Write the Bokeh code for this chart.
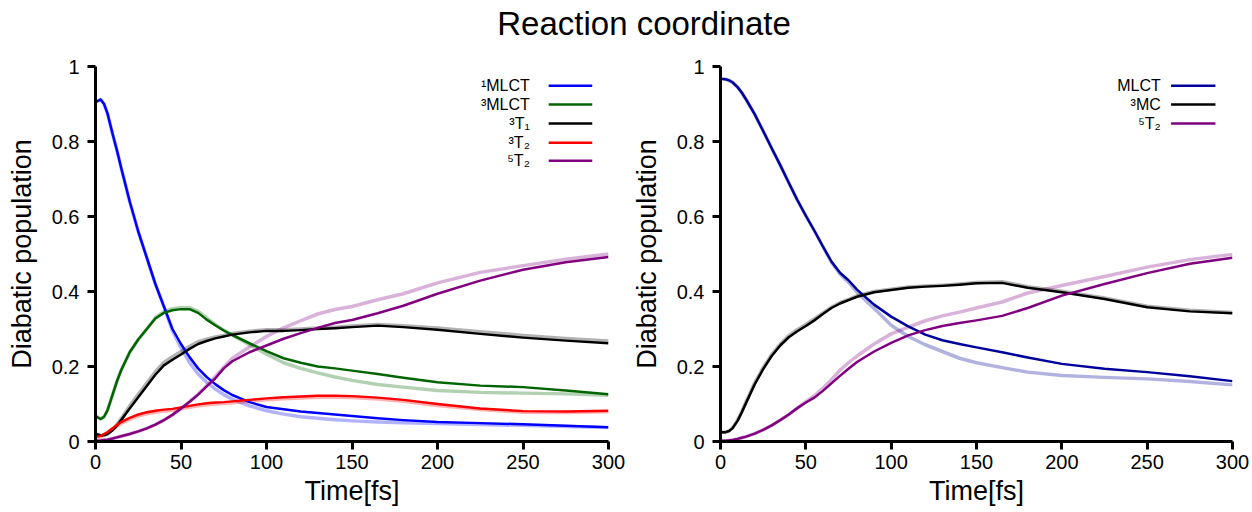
from bokeh.plotting import figure
from bokeh.models import Range1d, FixedTicker, NumeralTickFormatter, Div, Label
from bokeh.layouts import row, column
from bokeh.embed import file_html
from bokeh.resources import INLINE

# ---- data (time in fs) ----
T = [0, 3, 5, 7, 10, 12.5, 15, 20, 25, 30, 35, 40, 45, 50, 55, 60, 65, 70, 75, 80, 90, 100,
     110, 120, 130, 140, 150, 165, 180, 200, 225, 250, 275, 300]

# left panel: main run and faded comparison run
mlct1 = [0.905, 0.912, 0.90, 0.875, 0.82, 0.777, 0.73, 0.64, 0.56, 0.49, 0.42, 0.36, 0.30, 0.26, 0.225, 0.195, 0.172, 0.153,
         0.137, 0.124, 0.105, 0.092, 0.086, 0.080, 0.076, 0.072, 0.068, 0.062, 0.057, 0.052, 0.049, 0.046, 0.042, 0.038]
mlct1_b = [0.905, 0.912, 0.90, 0.875, 0.82, 0.777, 0.73, 0.64, 0.56, 0.49, 0.42, 0.36, 0.295, 0.25, 0.21, 0.18, 0.158, 0.14,
           0.125, 0.113, 0.095, 0.082, 0.073, 0.066, 0.062, 0.058, 0.055, 0.052, 0.05, 0.048, 0.045, 0.043, 0.04, 0.037]
mlct3 = [0.068, 0.06, 0.066, 0.083, 0.125, 0.16, 0.19, 0.238, 0.272, 0.30, 0.328, 0.343, 0.35, 0.353, 0.353, 0.343, 0.325, 0.31,
         0.296, 0.284, 0.262, 0.241, 0.222, 0.21, 0.2, 0.195, 0.189, 0.18, 0.17, 0.158, 0.149, 0.145, 0.136, 0.126]
mlct3_b = [0.068, 0.06, 0.066, 0.083, 0.125, 0.16, 0.19, 0.238, 0.272, 0.30, 0.33, 0.346, 0.354, 0.357, 0.357, 0.347, 0.33, 0.312,
           0.297, 0.284, 0.258, 0.233, 0.21, 0.195, 0.183, 0.172, 0.163, 0.152, 0.145, 0.136, 0.131, 0.129, 0.127, 0.123]
t31 = [0.02, 0.016, 0.017, 0.02, 0.03, 0.042, 0.057, 0.088, 0.118, 0.148, 0.178, 0.203, 0.218, 0.232, 0.247, 0.26, 0.268, 0.275,
       0.28, 0.285, 0.291, 0.295, 0.295, 0.297, 0.30, 0.302, 0.305, 0.309, 0.305, 0.298, 0.287, 0.277, 0.269, 0.262]
t31_b = [0.02, 0.016, 0.017, 0.02, 0.032, 0.045, 0.061, 0.095, 0.126, 0.156, 0.186, 0.211, 0.226, 0.24, 0.254, 0.266, 0.273, 0.279,
         0.283, 0.288, 0.294, 0.298, 0.298, 0.3, 0.303, 0.305, 0.308, 0.312, 0.309, 0.303, 0.293, 0.283, 0.275, 0.268]
t32 = [0.012, 0.015, 0.02, 0.025, 0.035, 0.044, 0.052, 0.063, 0.072, 0.078, 0.082, 0.085, 0.087, 0.091, 0.095, 0.099, 0.102, 0.104,
       0.105, 0.107, 0.111, 0.115, 0.118, 0.12, 0.122, 0.122, 0.121, 0.117, 0.111, 0.10, 0.088, 0.081, 0.08, 0.082]
t32_b = [0.01, 0.012, 0.016, 0.021, 0.031, 0.04, 0.048, 0.059, 0.068, 0.074, 0.078, 0.081, 0.083, 0.087, 0.091, 0.095, 0.098, 0.1,
         0.101, 0.103, 0.107, 0.111, 0.114, 0.116, 0.118, 0.118, 0.117, 0.113, 0.107, 0.096, 0.085, 0.078, 0.077, 0.079]
t52 = [0.002, 0.003, 0.004, 0.005, 0.008, 0.011, 0.014, 0.02, 0.027, 0.035, 0.045, 0.057, 0.071, 0.088, 0.106, 0.125, 0.147, 0.168,
       0.195, 0.214, 0.238, 0.256, 0.274, 0.289, 0.303, 0.316, 0.324, 0.342, 0.362, 0.394, 0.429, 0.458, 0.478, 0.492]
t52_b = [0.002, 0.003, 0.004, 0.005, 0.008, 0.011, 0.014, 0.02, 0.027, 0.035, 0.045, 0.057, 0.071, 0.088, 0.106, 0.126, 0.149, 0.173,
         0.198, 0.222, 0.252, 0.28, 0.303, 0.322, 0.34, 0.352, 0.36, 0.378, 0.394, 0.423, 0.451, 0.469, 0.486, 0.5]

# right panel
mlct = [0.967, 0.966, 0.963, 0.958, 0.945, 0.93, 0.912, 0.873, 0.828, 0.782, 0.737, 0.69, 0.644, 0.602, 0.562, 0.52, 0.48, 0.45,
        0.43, 0.405, 0.365, 0.333, 0.307, 0.285, 0.27, 0.26, 0.251, 0.238, 0.224, 0.207, 0.194, 0.185, 0.174, 0.161]
mlct_b = [0.967, 0.966, 0.963, 0.958, 0.945, 0.93, 0.912, 0.873, 0.828, 0.782, 0.737, 0.69, 0.644, 0.602, 0.562, 0.52, 0.478, 0.447,
          0.425, 0.398, 0.355, 0.31, 0.28, 0.258, 0.24, 0.222, 0.21, 0.197, 0.185, 0.176, 0.171, 0.167, 0.16, 0.151]
mc3 = [0.025, 0.025, 0.028, 0.035, 0.055, 0.078, 0.103, 0.152, 0.193, 0.228, 0.256, 0.278, 0.294, 0.308, 0.323, 0.34, 0.356, 0.368,
       0.377, 0.386, 0.398, 0.404, 0.41, 0.413, 0.415, 0.418, 0.422, 0.423, 0.41, 0.398, 0.38, 0.358, 0.347, 0.342]
mc3_b = [0.025, 0.025, 0.028, 0.036, 0.057, 0.08, 0.106, 0.156, 0.197, 0.232, 0.26, 0.282, 0.298, 0.312, 0.327, 0.343, 0.358, 0.37,
         0.379, 0.388, 0.4, 0.406, 0.412, 0.415, 0.417, 0.42, 0.424, 0.426, 0.413, 0.401, 0.383, 0.361, 0.35, 0.344]
t52r = [0.002, 0.002, 0.003, 0.004, 0.007, 0.01, 0.013, 0.021, 0.031, 0.043, 0.057, 0.072, 0.089, 0.104, 0.117, 0.135, 0.155, 0.175,
        0.194, 0.212, 0.24, 0.263, 0.283, 0.297, 0.308, 0.316, 0.323, 0.335, 0.356, 0.389, 0.42, 0.449, 0.474, 0.49]
t52r_b = [0.002, 0.002, 0.003, 0.004, 0.007, 0.01, 0.013, 0.021, 0.031, 0.043, 0.057, 0.072, 0.089, 0.106, 0.122, 0.142, 0.165, 0.19,
          0.21, 0.228, 0.26, 0.287, 0.305, 0.322, 0.335, 0.345, 0.356, 0.372, 0.396, 0.416, 0.44, 0.465, 0.485, 0.499]

x_ticks = [0, 50, 100, 150, 200, 250, 300]
y_ticks = [0, 0.2, 0.4, 0.6, 0.8, 1]

left_labels = ["\u00b9MLCT", "\u00b3MLCT", "\u00b3T\u2081", "\u00b3T\u2082", "\u2075T\u2082"]
left_colors = ["#0000ff", "#006400", "#000000", "#ff0000", "#800080"]
left_main = [mlct1, mlct3, t31, t32, t52]
left_faded = [mlct1_b, mlct3_b, t31_b, t32_b, t52_b]

right_labels = ["MLCT", "\u00b3MC", "\u2075T\u2082"]
right_colors = ["#00009c", "#000000", "#800080"]
right_main = [mlct, mc3, t52r]
right_faded = [mlct_b, mc3_b, t52r_b]

# legend placement (data units)
leg_text_x = 254
leg_seg_x0, leg_seg_x1 = 265, 290.5
leg_rows = [0.949, 0.899, 0.848, 0.797, 0.749]
leg_text_x_r = 258
leg_seg_x0_r, leg_seg_x1_r = 264, 290

FONT = "Liberation Sans"


def make_fig(border_left, border_right):
    p = figure(width=626, height=462, x_range=Range1d(0, 300), y_range=Range1d(0, 1),
               output_backend="svg", toolbar_location=None,
               min_border_left=border_left, min_border_right=border_right,
               min_border_top=16, min_border_bottom=71)
    p.outline_line_color = None
    p.grid.visible = False
    p.background_fill_color = "white"
    for ax in (p.xaxis[0], p.yaxis[0]):
        ax.axis_line_width = 3
        ax.axis_line_color = "black"
        ax.major_tick_line_width = 3
        ax.major_tick_out = 8
        ax.major_tick_in = 0
        ax.minor_tick_line_color = None
        ax.major_label_text_font = FONT
        ax.major_label_text_font_size = "20px"
        ax.major_label_text_color = "black"
        ax.axis_label_text_font = FONT
        ax.axis_label_text_font_size = "27px"
        ax.axis_label_text_font_style = "normal"
        ax.axis_label_text_color = "black"
    p.xaxis.ticker = FixedTicker(ticks=x_ticks)
    p.yaxis.ticker = FixedTicker(ticks=y_ticks)
    p.yaxis.formatter = NumeralTickFormatter(format="0.[0]")
    p.xaxis.axis_label = "Time[fs]"
    p.yaxis.axis_label = "Diabatic population"
    p.xaxis.major_label_standoff = 5
    p.yaxis.major_label_standoff = 8
    p.xaxis.axis_label_standoff = 4
    p.yaxis.axis_label_standoff = 12
    return p


def add_series(p, mains, fadeds, colors, labels, tx, sx0, sx1):
    for ys, c in zip(fadeds, colors):
        p.line(T, ys, line_color=c, line_alpha=0.3, line_width=3.5, line_join="round")
    for ys, c in zip(mains, colors):
        p.line(T, ys, line_color=c, line_width=2.5, line_join="round")
    for lab, c, yy in zip(labels, colors, leg_rows):
        p.add_layout(Label(x=tx, y=yy, text=lab, text_align="right", text_baseline="middle",
                           text_font=FONT, text_font_size="16px", text_color="black"))
        p.segment(x0=[sx0], y0=[yy], x1=[sx1], y1=[yy], line_color=c, line_width=2.5)


p1 = make_fig(95, 18)
add_series(p1, left_main, left_faded, left_colors, left_labels, leg_text_x, leg_seg_x0, leg_seg_x1)
p2 = make_fig(94, 20)
add_series(p2, right_main, right_faded, right_colors, right_labels, leg_text_x_r, leg_seg_x0_r, leg_seg_x1_r)

title = Div(text='<div style="font-family:\'Liberation Sans\';font-size:33px;color:black;'
                 'text-align:center;width:1252px;box-sizing:border-box;padding-left:36px;'
                 'line-height:48px;">Reaction coordinate</div>',
            width=1252, height=50, margin=0)

layout = column(title, row(p1, p2, margin=0), margin=0)
open("out.html", "w").write(file_html(layout, INLINE))
